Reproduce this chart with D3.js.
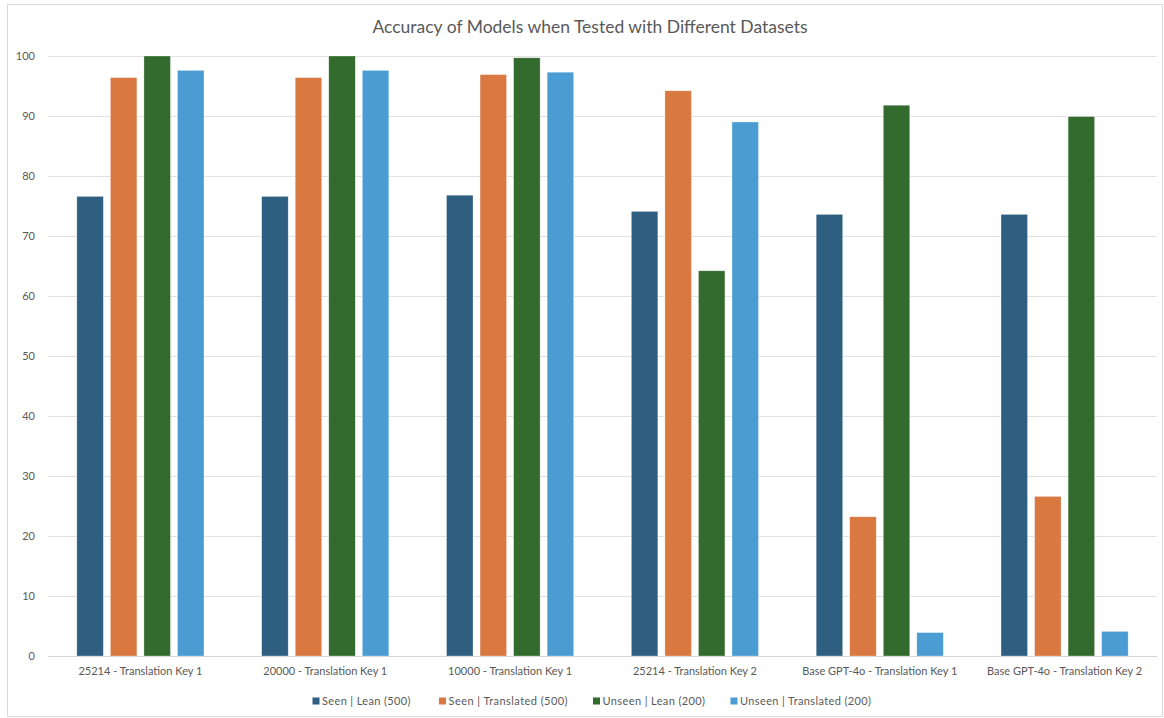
<!DOCTYPE html>
<html>
<head>
<meta charset="utf-8">
<script src="https://cdn.jsdelivr.net/npm/d3@7"></script>
<style>
  html, body { margin: 0; padding: 0; background: #ffffff; }
  svg { display: block; }
  text { font-family: Lato, "Open Sans", sans-serif; }
</style>
</head>
<body>
<svg id="chart" width="1164" height="718"></svg>
<script>
const categories = [
  "25214 - Translation Key 1",
  "20000 - Translation Key 1",
  "10000 - Translation Key 1",
  "25214 - Translation Key 2",
  "Base GPT-4o - Translation Key 1",
  "Base GPT-4o - Translation Key 2"
];
const seriesNames = [
  "Seen | Lean (500)",
  "Seen | Translated (500)",
  "Unseen | Lean (200)",
  "Unseen | Translated (200)"
];
const seenLean = [76.6, 76.6, 76.8, 74.1, 73.6, 73.6];
const seenTranslated = [96.4, 96.4, 96.9, 94.2, 23.2, 26.6];
const unseenLean = [100, 100, 99.7, 64.2, 91.8, 89.9];
const unseenTranslated = [97.6, 97.6, 97.3, 89.0, 3.9, 4.1];
const yTicks = [0, 10, 20, 30, 40, 50, 60, 70, 80, 90, 100];
const colors = ["#2E5F80", "#D97841", "#336A2E", "#4A9CD3"];
const titleText = "Accuracy of Models when Tested with Different Datasets";

const seriesValues = [seenLean, seenTranslated, unseenLean, unseenTranslated];

const svg = d3.select("#chart");

// chart border
svg.append("rect")
  .attr("x", 7.5).attr("y", 4.5)
  .attr("width", 1155).attr("height", 712)
  .attr("fill", "none").attr("stroke", "#d9d9d9").attr("stroke-width", 1);

const plot = { left: 48, right: 1157, top: 56, bottom: 656 };

const x0 = d3.scaleBand().domain(categories).range([plot.left, plot.right]).paddingInner(0).paddingOuter(0);
const x1 = d3.scaleBand().domain(seriesNames).range([0, x0.bandwidth()]).paddingInner(0.21).paddingOuter(0.86);
const y = d3.scaleLinear().domain([0, 100]).range([plot.bottom, plot.top]);

// gridlines
svg.append("g").selectAll("line").data(yTicks).join("line")
  .attr("x1", plot.left).attr("x2", plot.right)
  .attr("y1", d => Math.round(y(d)) + 0.5).attr("y2", d => Math.round(y(d)) + 0.5)
  .attr("stroke", d => d === 0 ? "#d4d4d4" : "#e3e3e3").attr("stroke-width", 1);

// y axis labels
const yAxis = d3.axisLeft(y).tickValues(yTicks).tickSize(0).tickPadding(0);
const gy = svg.append("g").attr("transform", `translate(35,0)`).call(yAxis);
gy.select(".domain").remove();
gy.selectAll("text").attr("font-size", 11).attr("fill", "#595959")
  .attr("font-family", "Lato, 'Open Sans', sans-serif");

// bars
const groups = svg.append("g").selectAll("g").data(categories).join("g")
  .attr("transform", d => `translate(${x0(d)},0)`);
groups.selectAll("rect").data((c, ci) => seriesNames.map((s, si) => ({ s, si, v: seriesValues[si][ci] })))
  .join("rect")
  .attr("x", d => x1(d.s))
  .attr("width", x1.bandwidth())
  .attr("y", d => y(d.v))
  .attr("height", d => y(0) - y(d.v))
  .attr("fill", d => colors[d.si])
  .attr("stroke", "#ffffff").attr("stroke-opacity", 0.5).attr("stroke-width", 0.6);

// x axis labels
const xAxis = d3.axisBottom(x0).tickSize(0).tickPadding(0);
const gx = svg.append("g").attr("transform", `translate(0,${plot.bottom + 11})`).call(xAxis);
gx.select(".domain").remove();
gx.selectAll("text").attr("font-size", 11).attr("fill", "#595959")
  .attr("font-family", "Lato, 'Open Sans', sans-serif");

// title
svg.append("text")
  .attr("x", 590).attr("y", 33)
  .attr("text-anchor", "middle")
  .attr("font-size", 17.5).attr("fill", "#595959")
  .text(titleText);

// legend
const legendX = [312.5, 439, 593, 730.5];
const legendW = [88.5, 119, 102.5, 131];
const legend = svg.append("g").selectAll("g").data(seriesNames).join("g")
  .attr("transform", (d, i) => `translate(${legendX[i]},701)`);
legend.append("rect").attr("x", 0).attr("y", -3.5).attr("width", 7).attr("height", 7)
  .attr("fill", (d, i) => colors[i]);
legend.append("text").attr("x", 9.5).attr("y", 4).attr("font-size", 11).attr("fill", "#595959")
  .attr("textLength", (d, i) => legendW[i]).attr("lengthAdjust", "spacing")
  .text(d => d);
</script>
</body>
</html>
